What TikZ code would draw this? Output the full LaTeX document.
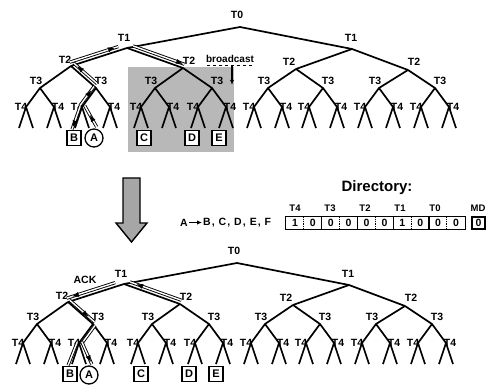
\documentclass[tikz,border=0pt]{standalone}
\usepackage{fontspec}
\setmainfont{Liberation Sans}
\usetikzlibrary{calc,arrows.meta,decorations.markings}
\tikzset{
  edge/.style={line width=1.7pt, line join=round},
  lbl/.style={font=\fontsize{10.5}{11}\selectfont\bfseries, inner sep=0pt},
  dbl/.style={double=white, double distance=1.4pt, line width=0.9pt},
  arrmark/.style={postaction={decorate,decoration={markings,mark=at position #1 with {\arrow{Latex[length=6.5pt,width=5pt]}}}}},
  lbox/.style={draw, line width=1.3pt, fill=white, minimum width=14pt, minimum height=15pt, inner sep=0pt, font=\fontsize{11}{11}\selectfont\bfseries},
  lcirc/.style={draw, circle, line width=1.3pt, fill=white, minimum size=18pt, inner sep=0pt, font=\fontsize{11}{11}\selectfont\bfseries},
  cell/.style={minimum width=17.9pt, minimum height=12pt, inner sep=0pt, font=\fontsize{10.5}{10}\selectfont\bfseries},
  dlbl/.style={font=\fontsize{9.5}{9}\selectfont\bfseries, inner sep=0pt},
}
\newcommand\mytree[3]{%
  \coordinate (#1t0) at (240+#2,27+#3);
  \coordinate (#1t1a) at (127+#2,48+#3);
  \coordinate (#1t1b) at (352+#2,49+#3);
  \coordinate (#1t2a) at (71+#2,66+#3);
  \coordinate (#1t2b) at (183+#2,68+#3);
  \coordinate (#1t2c) at (296+#2,69+#3);
  \coordinate (#1t2d) at (408+#2,70+#3);
  \foreach \i/\x in {1/40,2/96,3/155,4/212,5/268,6/323,7/379,8/435}{%
    \coordinate (#1t3-\i) at (\x+#2,88+#3);
    \coordinate (#1t4a-\i) at (\x-14+#2,107+#3);
    \coordinate (#1t4b-\i) at (\x+14+#2,107+#3);
  }
  \node[lbl] (#1l0) at ($(#1t0)+(-3,-12)$) {T0};
  \node[lbl] (#1l1a) at ($(#1t1a)+(-3,-10)$) {T1};
  \node[lbl] (#1l1b) at ($(#1t1b)+(-1,-11)$) {T1};
  \node[lbl] (#1l2a) at ($(#1t2a)+(-6,-6)$) {T2};
  \node[lbl] (#1l2b) at ($(#1t2b)+(6,-7)$) {T2};
  \node[lbl] (#1l2c) at ($(#1t2c)+(-7,-7)$) {T2};
  \node[lbl] (#1l2d) at ($(#1t2d)+(6,-8)$) {T2};
  \foreach \i/\s in {1/-4,2/5,3/-4,4/5,5/-4,6/5,7/-4,8/5}{%
    \node[lbl] (#1l3-\i) at ($(#1t3-\i)+(\s,-7)$) {T3};
    \node[lbl] (#1l4a-\i) at ($(#1t4a-\i)+(-5,0)$) {T4};
    \node[lbl] (#1l4b-\i) at ($(#1t4b-\i)+(4,0)$) {T4};
  }
  \draw[edge] (#1t1a) -- (#1t0) -- (#1t1b);
  \draw[edge] (#1t2a) -- (#1t1a) -- (#1t2b);
  \draw[edge] (#1t2c) -- (#1t1b) -- (#1t2d);
  \foreach \i/\p in {1/a,2/a,3/b,4/b,5/c,6/c,7/d,8/d}{\draw[edge] (#1t2\p) -- (#1t3-\i);}
  \foreach \i in {1,...,8}{%
    \draw[edge] (#1t4a-\i) -- (#1t3-\i) -- (#1t4b-\i);
    \foreach \s in {a,b}{%
      \draw[edge] ($(#1t4\s-\i)+(-7,21)$) -- (#1t4\s-\i) -- ($(#1t4\s-\i)+(7,21)$);
    }
  }
}
\begin{document}
\begin{tikzpicture}[x=1pt,y=-1pt]
\useasboundingbox (0,0) rectangle (489,387);
% shaded broadcast region
\fill[black!28] (128,67) rectangle (234,152);
% ---------- top tree ----------
\mytree{top}{0}{0}
\node[lbox] (topB) at (74,138) {B};
\node[lcirc] (topA) at (94,138) {A};
\node[lbox] (topC) at (144,138) {C};
\node[lbox] (topD) at (192,138) {D};
\node[lbox] (topE) at (219,138) {E};
% request path
\draw[dbl] ($(topA.north)!3pt!-90:(topt4a-2)$) -- ($(topt4a-2)!3pt!90:(topA.north)$);
\path[arrmark=0.55] ($(topA.north)!3pt!-90:(topt4a-2)$) -- ($(topt4a-2)!3pt!90:(topA.north)$);
\draw[dbl] ($(topt4a-2)!2pt!-90:(topB.north)$) -- ($(topB.north)!2pt!90:(topt4a-2)$);
\path[arrmark=0.9] ($(topt4a-2)!2pt!-90:(topB.north)$) -- ($(topB.north)!2pt!90:(topt4a-2)$);
\draw[dbl] ($(topt4a-2)!2.5pt!90:(topt3-2)$) -- ($(topt3-2)!2.5pt!-90:(topt4a-2)$);
\path[arrmark=0.8] ($(topt4a-2)!2.5pt!90:(topt3-2)$) -- ($(topt3-2)!2.5pt!-90:(topt4a-2)$);
\draw[dbl, shorten <=2pt] ($(topt3-2)!4pt!-90:(topt2a)$) -- ($(topt2a)!4pt!90:(topt3-2)$);
\path[arrmark=0.85] ($(topt3-2)!4pt!-90:(topt2a)$) -- ($(topt2a)!4pt!90:(topt3-2)$);
\draw[dbl, shorten >=8pt] ($(topt2a)!4pt!90:(topt1a)$) -- ($(topt1a)!4pt!-90:(topt2a)$);
\path[arrmark=0.8] ($(topt2a)!4pt!90:(topt1a)$) -- ($(topt1a)!4pt!-90:(topt2a)$);
\draw[dbl, shorten <=5pt] ($(topt1a)!4pt!90:(topt2b)$) -- ($(topt2b)!4pt!-90:(topt1a)$);
\path[arrmark=0.97] ($(topt1a)!4pt!90:(topt2b)$) -- ($(topt2b)!4pt!-90:(topt1a)$);
% broadcast label
\node[font=\fontsize{10}{10}\selectfont\bfseries, inner sep=0pt] (bcast) at (230,59) {broadcast};
\coordinate (bcl) at (207,65);
\coordinate (bcr) at (253,65);
\draw[line width=0.6pt, dashed] (bcl) -- (bcr);
\coordinate (bvt) at (232,66);
\coordinate (bvb) at (232,85);
\draw[line width=1.1pt, -{Latex[length=5pt,width=4pt]}] (bvt) -- (bvb);
% ---------- big arrow ----------
\draw[line width=1.4pt, fill=black!35, line join=miter] (123,178) -- (140,178) -- (140,223) -- (147,223) -- (131.5,242) -- (116,223) -- (123,223) -- cycle;
% ---------- directory ----------
\node[font=\fontsize{15}{15}\selectfont\bfseries, inner sep=0pt] (dirtitle) at (377,188) {Directory:};
\node[font=\fontsize{10.5}{10}\selectfont\bfseries, inner sep=1pt] (srcA) at (184,222.5) {A};
\node[font=\fontsize{10.5}{10}\selectfont\bfseries\addfontfeatures{LetterSpace=10}, inner sep=1pt, anchor=west] (dests) at (202,222.5) {B, C, D, E, F};
\draw[line width=1.1pt, -{Latex[length=5pt,width=4.5pt]}] (srcA) -- (dests);
\foreach \k/\v in {0/1,1/0,2/0,3/0,4/0,5/0,6/1,7/0,8/0,9/0}{%
  \node[cell] (c\k) at (294.95+17.9*\k,223) {\v};
}
\draw[line width=1.3pt] (c0.north west) rectangle (c9.south east);
\foreach \k in {1,3,5,7,9}{\draw[line width=0.9pt, densely dotted] (c\k.north west) -- (c\k.south west);}
\foreach \k in {2,4,6,8}{\draw[line width=1.2pt] (c\k.north west) -- (c\k.south west);}
\foreach \k/\t in {0/T4,1/T3,2/T2,3/T1,4/T0}{%
  \node[dlbl] (dl\k) at (295+35*\k,208) {\t};
}
\node[cell, draw, line width=1.3pt, minimum width=13pt] (md) at (478.5,223) {0};
\node[dlbl] (mdl) at (478,208) {MD};
% ---------- bottom tree ----------
\mytree{bot}{-3}{236}
\node[lbox] (botB) at (70,374) {B};
\node[lcirc] (botA) at (89,375) {A};
\node[lbox] (botC) at (141,374) {C};
\node[lbox] (botD) at (189,374) {D};
\node[lbox] (botE) at (216,374) {E};
\node[font=\fontsize{10.5}{10}\selectfont\bfseries, inner sep=0pt] (ack) at (85,280) {ACK};
% ack path
\draw[dbl, shorten >=5pt] ($(bott2b)!4pt!-90:(bott1a)$) -- ($(bott1a)!4pt!90:(bott2b)$);
\path[arrmark=0.8] ($(bott2b)!4pt!-90:(bott1a)$) -- ($(bott1a)!4pt!90:(bott2b)$);
\draw[dbl, shorten <=8pt] ($(bott1a)!4pt!-90:(bott2a)$) -- ($(bott2a)!4pt!90:(bott1a)$);
\path[arrmark=0.9] ($(bott1a)!4pt!-90:(bott2a)$) -- ($(bott2a)!4pt!90:(bott1a)$);
\draw[dbl] ($(bott2a)!2.5pt!90:(bott3-2)$) -- ($(bott3-2)!2.5pt!-90:(bott2a)$);
\path[arrmark=0.75] ($(bott2a)!2.5pt!90:(bott3-2)$) -- ($(bott3-2)!2.5pt!-90:(bott2a)$);
\draw[dbl] ($(bott3-2)!2.5pt!90:(bott4a-2)$) -- ($(bott4a-2)!2.5pt!-90:(bott3-2)$);
\draw[dbl] ($(bott4a-2)!2pt!-90:(botB.north)$) -- ($(botB.north)!2pt!90:(bott4a-2)$);
\draw[dbl] ($(bott4a-2)!3pt!90:(botA.north)$) -- ($(botA.north)!3pt!-90:(bott4a-2)$);
\path[arrmark=0.9] ($(bott4a-2)!3pt!90:(botA.north)$) -- ($(botA.north)!3pt!-90:(bott4a-2)$);
\end{tikzpicture}
\end{document}
